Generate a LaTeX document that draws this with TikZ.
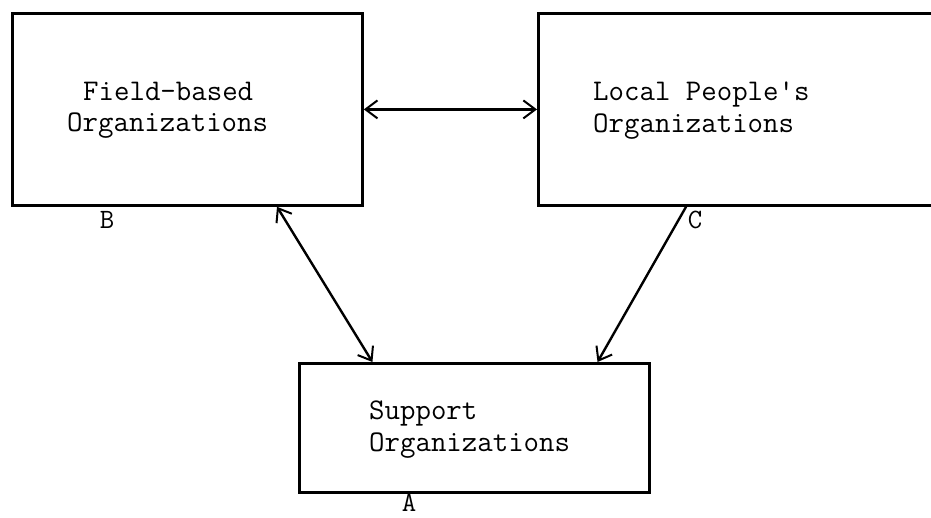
\documentclass[tikz,border=0pt]{standalone}
\usetikzlibrary{arrows.meta,calc}
\begin{document}
\begin{tikzpicture}[x=1pt,y=-1pt,
  box/.style={draw,line width=2.8pt,rectangle,inner sep=0pt,anchor=north west},
  txt/.style={anchor=base west,inner sep=0pt,font=\ttfamily\fontsize{30}{30}\selectfont},
  lbl/.style={anchor=base,inner sep=0pt,font=\ttfamily\fontsize{28}{28}\selectfont},
  conn/.style={line width=2.4pt},
  tip/.tip={Straight Barb[length=12pt,width=18pt,line width=2pt]}]
\clip (0,0) rectangle (931,517);
\fill[white] (0,0) rectangle (931,517);
% boxes
\node[box,minimum width=350pt,minimum height=192pt] (B) at (11,12) {};
\node[box,minimum width=423pt,minimum height=192pt] (C) at (537,12) {};
\node[box,minimum width=350pt,minimum height=129pt] (A) at (298,362) {};
% texts
\node[txt] (b1) at (83,100) {Field-based};
\node[txt] (b2) at (67,131) {Organizations};
\node[txt] (c1) at (593,100) {Local People's};
\node[txt] (c2) at (593,132) {Organizations};
\node[txt] (a1) at (369,419) {Support};
\node[txt] (a2) at (369,451) {Organizations};
% labels
\node[lbl] (lB) at (107,228) {B};
\node[lbl] (lC) at (695,228) {C};
\node[lbl] (lA) at (409,511) {A};
% connectors
\draw[conn,{tip}-{tip}] (B.east) -- (C.west);
\draw[conn,{tip}-{tip}] ($(B.south west)!0.754!(B.south east)$) -- ($(A.north west)!0.211!(A.north east)$);
\draw[conn,-{tip}] ($(C.south west)!0.35!(C.south east)$) -- ($(A.north west)!0.849!(A.north east)$);
\end{tikzpicture}
\end{document}
